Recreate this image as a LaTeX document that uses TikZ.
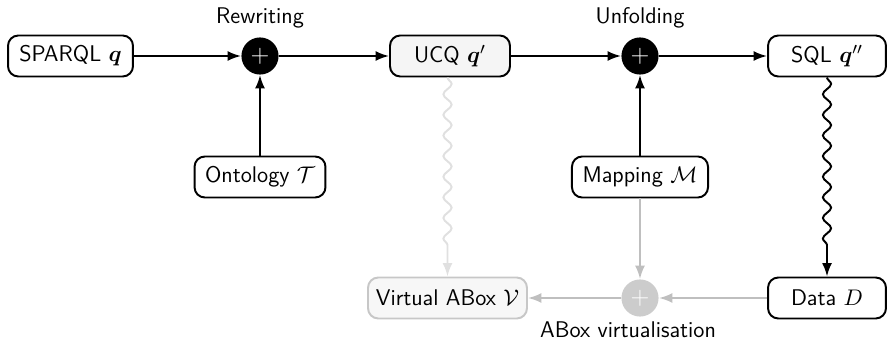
\documentclass[tikz,border=0pt]{standalone}
\usepackage{amsmath,amssymb}
\usetikzlibrary{arrows.meta,decorations.pathmorphing}
\begin{document}
\begin{tikzpicture}[x=0.485pt,y=-0.485pt,font=\fontsize{11}{13}\selectfont\sffamily,
  box/.style={draw,line width=0.95pt,rounded corners=5pt,minimum height=19.9pt,inner xsep=3pt,inner ysep=2pt,fill=white},
  gbox/.style={box,draw=black!22,fill=black!3},
  plus/.style={circle,fill=black,minimum size=18pt,inner sep=0pt,text=white,font=\large},
  gplus/.style={plus,fill=black!20},
  arr/.style={line width=0.95pt,-{Latex[length=6.5pt,width=4.8pt]}},
  garr/.style={arr,draw=black!25},
  wavy/.style={arr,decorate,decoration={snake,amplitude=2pt,segment length=10pt,post length=5mm}},
  lbl/.style={inner sep=0pt}]
\useasboundingbox (0,0) rectangle (887,342);
\node[box,minimum width=60.6pt] (sparql) at (70.5,56) {SPARQL $\boldsymbol{q}$};
\node[plus] (rew) at (260,56) {$+$};
\node[box,minimum width=58.2pt,fill=black!4] (ucq) at (450,56) {UCQ $\boldsymbol{q}'$};
\node[plus] (unf) at (640,56) {$+$};
\node[box,minimum width=57.2pt] (sql) at (827,56) {SQL $\boldsymbol{q}''$};
\node[box,minimum width=63.5pt] (onto) at (260,177) {Ontology $\mathcal{T}$};
\node[box,minimum width=66pt] (map) at (640,177) {Mapping $\mathcal{M}$};
\node[gbox,minimum width=77.1pt] (vabox) at (447.5,298) {Virtual ABox $\mathcal{V}$};
\node[gplus] (virt) at (640,298) {$+$};
\node[box,minimum width=57.2pt] (data) at (827,298) {Data $D$};
\node[lbl] (lrew) at (260,18) {Rewriting};
\node[lbl] (lunf) at (640,18) {Unfolding};
\node[lbl] (lvirt) at (628,330) {ABox virtualisation};
\draw[arr] (sparql) -- (rew);
\draw[arr] (rew) -- (ucq);
\draw[arr] (onto) -- (rew);
\draw[arr] (ucq) -- (unf);
\draw[arr] (unf) -- (sql);
\draw[arr] (map) -- (unf);
\draw[wavy] (sql) -- (data);
\draw[wavy,draw=black!12] (vabox.north |- ucq.south) -- (vabox.north);
\draw[garr] (map) -- (virt);
\draw[garr] (data) -- (virt);
\draw[garr] (virt) -- (vabox);
\end{tikzpicture}
\end{document}
